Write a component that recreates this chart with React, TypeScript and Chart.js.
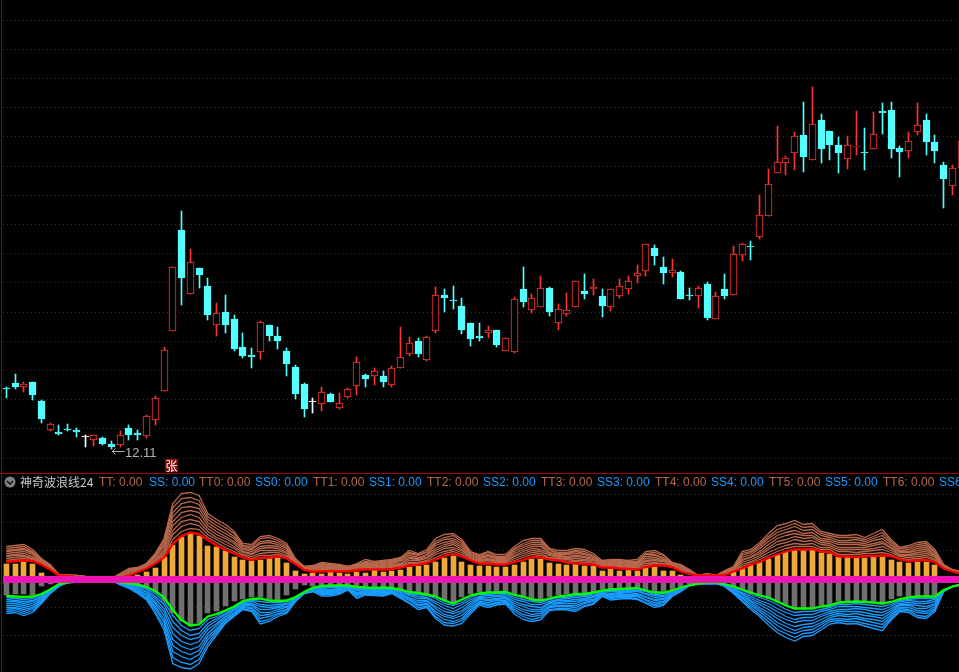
import React, { useEffect, useRef } from "react";
import { Chart, registerables } from "chart.js";

Chart.register(...registerables);

const open = [15.06,15.31,15.11,15.36,14.41,12.96,12.86,13.01,12.96,12.59,12.46,12.56,12.26,12.21,13.06,12.81,12.66,13.46,14.91,17.91,22.96,19.76,21.06,20.16,18.21,18.86,18.51,17.11,16.71,16.86,18.21,17.66,16.91,16.11,15.26,14.34,14.26,14.76,14.06,14.61,15.16,15.71,15.66,15.66,15.21,16.06,16.76,17.41,16.46,17.91,19.71,19.46,19.16,18.31,17.66,17.81,17.96,16.91,16.86,20.01,18.96,19.11,20.06,18.31,18.76,19.11,19.91,20.01,19.66,19.11,19.66,20.01,20.66,20.91,22.06,21.11,20.81,20.86,19.71,19.66,20.26,18.51,20.01,19.71,21.71,22.16,22.61,23.66,25.81,26.31,26.81,27.71,26.46,28.46,27.91,27.21,26.51,27.11,26.86,27.01,28.91,28.96,27.06,26.91,27.86,28.46,27.36,26.21,25.16,26.06];
const close = [15.01,15.11,15.26,14.71,13.51,13.26,12.76,12.96,12.86,12.59,12.71,12.26,12.11,12.71,12.71,12.71,13.66,14.56,16.96,21.11,20.56,21.36,20.71,18.71,18.81,18.21,17.01,16.66,16.61,18.36,17.66,17.41,16.26,14.76,14.01,14.34,14.86,14.36,14.31,15.01,16.36,15.51,15.91,15.36,16.06,16.61,17.31,16.76,17.61,19.71,19.56,19.41,17.96,17.51,17.56,17.96,17.21,17.56,19.51,19.36,19.56,20.06,18.86,19.01,18.96,20.41,19.76,20.11,19.16,20.01,20.16,20.41,20.81,22.26,21.66,20.81,20.96,19.51,19.66,20.06,18.56,19.66,19.66,21.76,22.26,22.11,23.71,25.26,26.36,26.56,27.66,26.61,28.26,27.01,27.21,26.81,27.21,27.16,26.81,27.76,28.81,27.01,26.86,27.41,28.21,27.36,26.91,25.51,26.06,27.41];
const high = [15.11,15.76,15.36,15.36,14.46,13.31,13.21,13.26,13.06,12.71,12.71,12.61,12.41,12.91,13.21,12.96,13.71,14.66,17.11,21.11,23.91,22.01,21.06,20.56,19.31,19.71,18.71,17.81,17.06,18.41,18.21,18.11,17.06,16.21,15.31,14.56,15.11,14.81,14.81,15.06,16.61,15.76,16.06,15.91,16.16,18.11,17.61,17.56,17.66,20.11,20.01,20.16,19.56,18.31,18.31,18.16,17.96,17.56,19.61,21.11,19.76,20.66,20.11,19.26,19.81,20.41,20.76,20.51,20.01,20.01,20.51,20.66,21.21,22.26,22.21,21.61,21.51,20.91,20.06,20.16,20.36,19.86,20.76,22.16,22.31,22.41,24.71,26.01,28.16,26.66,27.86,29.36,30.11,28.76,27.91,27.61,27.66,28.91,28.06,28.86,29.31,29.36,27.16,27.86,29.31,28.76,27.71,26.36,26.21,27.41];
const low = [14.56,15.01,14.86,14.46,13.31,12.91,12.71,12.91,12.61,12.11,12.16,12.21,12.01,12.11,12.46,12.46,12.56,13.21,14.91,17.91,19.21,19.76,20.06,18.46,17.66,17.81,16.91,16.56,16.06,16.51,17.41,17.01,15.66,14.51,13.61,13.81,13.91,14.36,14.01,14.56,14.71,15.11,15.21,15.11,15.11,16.06,16.66,16.61,16.41,17.81,18.86,19.01,17.76,17.16,17.41,17.56,17.11,16.91,16.81,19.11,18.81,19.11,18.66,17.96,18.66,19.11,19.51,19.71,18.61,18.91,19.56,19.76,20.31,20.66,21.21,20.26,20.61,19.51,19.46,19.06,18.46,18.51,19.51,19.71,21.41,21.46,22.51,23.66,25.81,25.71,25.96,25.86,26.46,26.31,26.46,25.81,26.01,26.71,25.96,27.01,27.76,26.56,25.61,26.56,27.71,26.71,26.31,24.06,24.71,26.06];

const priceGrid = [33.45,32,30.55,29.1,27.65,26.15,24.7,23.25,21.8,20.35,18.85,17.4,15.95,14.5,13.05,11.55];
const waveGrid = [85.4,57.4,29.4,-27.6,-55.6];

const upBars = [16,16,17.5,15.5,7,3,1,1,0.5,0,0,0,0,0.5,1,5,7.5,12,22.5,34.5,42.5,47,44,33.5,32.5,28.5,22.5,19.5,19,19.5,22,22,16.5,8.5,5.5,6.5,6,7.5,6.5,5.5,7.5,7,9.5,7.5,8.5,9.5,12.5,13.5,14.5,17.5,21.5,23.5,17.5,14.5,13.5,13.5,12.5,12.5,14.5,17.5,20.5,20.5,16.5,15.5,14.5,15.5,13.5,13.5,8.5,10.5,8.5,9.5,8.5,11.5,12.5,8.5,8.5,4.5,2,1,0.5,0.5,1,7.5,11.5,14.5,17.5,20.5,24.5,27.5,29.5,29.5,29.5,26.5,25.5,23,23,23,21.5,22.5,24.5,19.5,17.5,16.5,17.5,17.5,14.5,1,0.5,0.5];
const downBars = [15.5,14.5,14.5,15.5,6.5,4,1,1,0.5,0,0,0,0,0.5,1,4.5,8,12,21.5,33,41,46.5,43,33,31.5,26.5,21.5,19,17.5,17.5,19,21,15.5,9.5,5.5,6,5.5,6,5.5,5.5,7,8.5,8,8.5,8,11,13,14,15,17,21,24,17,14,12.5,12.5,12,12,14.5,18,20.5,20.5,17,15.5,14.5,14.5,13,13,9,10,9,8,9,11,12,11,11,7,4,1,0.5,0.5,1,8,10.5,14,16.5,19,22,25.5,29,29,28,25.5,25.5,21,21,22,21,21,24,19,16.5,17,17,17,15.5,1,0.5,0.5];

const redLine = [17.5,18.5,19,18.5,15,10,4,3.5,2.5,1,1,1,1,2,4,7.5,11,16,22,35.5,43.5,47,45.5,39.5,34,29.5,26,22,19.5,21.5,22,23,21,15.5,9.5,8,8,8.5,8,8,9.5,10,10,10,10.5,12,14,15,16.5,20,23.5,25.5,23,19,16,16,15,15,17.5,19.5,22.5,22,20,19,17,16,15.5,15,12,12,11,10.5,10,12.5,14,14,12.5,8,5.5,4,4,4,4.5,8,11,15,17.5,21.5,25,28,30,30,30.5,28,27.5,23,23,22.5,23.5,23.5,24,23.5,20,18.5,19,19.5,17.5,11,8,6];
const greenLine = [16.5,17,17.5,17,14.5,10,4.5,3,2,1,1,1,1,3,4,5,7.5,11.5,18,30.5,40.5,46,45,37,34.5,31,27,21.5,19.5,19,21,21.5,21,17.5,12.5,8,6.5,6,6,6,7.5,8,8.5,8,8.5,10,12.5,13.5,15,17,21,24,20,16,14,13,13,12.5,15.5,17,20,21,19,17,16,14.5,14.5,13,11,10,9.5,9,8.5,11,13,13,11,8,5.5,4,3,3,4.5,7,10,13,16,18,22,26,29,29,29,27,26,23,22.5,22,22.5,23,24,22.5,19.5,18,17,17,17,10.5,7,5];
const zeroX = [-0.38, 110];
const zeroY = [0, 0];

const TT = [19,20,21,20,16,11,4,4,3,1,1,1,1,2,5,8,12,17,24,40,48,51,50,42,37,32,28,24,21,24,24,25,23,16,10,9,9,9,9,9,10,11,11,11,12,13,16,16,18,22,26,28,25,20,17,17,16,16,19,22,25,24,21,20,18,18,17,16,13,13,12,11,11,14,16,15,13,9,6,4,4,4,5,9,13,17,20,24,28,31,33,33,33,30,30,25,25,25,26,26,27,25,21,20,21,22,19,11,8,6];
const TT0 = [21,22,23,21,16,11,4,4,3,1,1,1,1,3,5,9,12,18,26,45,53,56,54,45,40,35,31,25,23,26,27,27,24,17,10,9,10,10,9,9,11,12,12,12,13,14,17,17,19,25,28,30,27,21,18,19,17,17,21,24,27,26,22,21,20,19,19,17,14,14,13,12,12,16,17,16,14,10,6,4,4,4,6,9,15,18,22,27,31,34,36,35,36,32,32,28,28,27,28,29,30,27,23,22,23,24,20,12,8,6];
const TT1 = [23,24,24,22,17,12,4,4,3,2,1,1,1,3,6,9,13,19,28,49,58,60,58,48,42,38,33,27,25,29,29,29,26,17,11,10,11,11,10,10,12,13,13,13,14,15,19,19,21,27,31,32,29,22,19,20,18,18,23,26,29,28,24,22,21,21,20,19,14,15,14,13,13,18,19,18,14,10,7,4,5,4,6,10,17,20,24,30,35,37,40,38,39,35,34,30,30,30,30,31,33,29,24,24,25,26,22,12,9,7];
const TT2 = [24,25,26,23,18,12,4,4,3,2,1,1,1,4,7,10,13,20,30,54,62,65,62,51,45,41,36,28,26,31,32,31,27,18,11,10,12,12,11,10,12,14,14,14,15,16,21,20,22,29,33,35,30,23,20,21,19,19,24,28,31,30,25,23,22,23,22,20,15,16,15,14,14,19,20,19,15,11,7,4,5,4,7,10,19,22,26,32,38,40,43,41,42,37,36,32,32,32,32,34,36,31,25,25,27,28,23,13,9,7];
const TT3 = [26,27,28,25,18,13,4,4,3,2,1,1,1,4,8,10,14,22,33,58,67,69,67,54,48,43,38,30,28,33,34,33,29,19,11,11,13,13,12,11,13,15,14,15,16,18,22,21,24,31,35,37,32,24,21,23,20,20,26,30,33,33,26,24,23,24,23,21,16,16,16,15,15,21,22,20,15,12,8,4,5,4,7,11,20,23,28,35,41,44,46,44,44,39,38,35,35,35,34,36,38,32,27,27,29,30,24,13,9,7];
const TT4 = [28,29,30,26,19,13,4,4,4,2,1,1,1,5,8,11,14,23,35,63,72,73,71,57,51,46,41,31,30,36,37,35,31,19,12,12,14,13,12,11,14,16,15,16,17,19,24,22,25,34,37,39,34,25,22,24,21,21,28,32,35,35,27,25,25,26,25,22,17,17,17,16,16,23,24,21,16,13,8,4,5,4,8,11,22,25,31,38,44,47,49,46,47,41,40,37,37,37,36,39,41,34,28,28,31,32,25,13,9,7];
const TT5 = [29,30,31,27,20,14,4,4,4,3,1,1,1,5,9,11,15,24,37,67,76,78,75,60,54,49,43,33,31,38,39,37,32,20,12,12,15,14,13,12,15,17,16,17,18,20,26,24,27,36,40,41,36,26,23,25,22,22,30,34,37,37,29,26,26,28,26,23,17,18,18,17,17,25,25,22,16,14,9,4,5,4,8,12,24,27,33,41,47,50,53,49,50,44,42,39,39,40,38,41,44,36,29,30,33,34,27,14,9,8];
const TT6 = [31,32,33,28,20,14,4,4,4,3,1,1,1,6,10,12,16,25,39,72,81,82,79,63,57,52,46,34,33,41,42,39,34,20,13,13,16,15,14,13,15,18,17,18,19,21,27,25,28,38,42,44,38,27,24,27,23,23,31,36,39,39,30,27,27,29,28,24,18,19,19,18,18,26,27,24,17,14,9,4,5,4,8,12,26,28,35,43,50,53,56,52,53,46,44,42,42,42,40,43,47,38,31,32,35,36,28,14,9,8];
const TT7 = [33,34,35,30,21,15,5,4,4,3,1,1,1,6,11,12,16,26,41,76,86,87,84,66,60,55,48,36,35,43,44,41,36,21,13,14,17,16,15,13,16,20,18,19,20,22,29,26,30,41,45,46,40,28,25,28,25,25,33,39,41,41,31,29,29,31,30,26,19,20,20,19,20,28,29,25,17,15,10,4,6,4,9,13,28,30,37,46,54,56,59,55,56,48,46,44,44,45,42,46,50,40,32,34,37,38,30,15,10,8];

const SS = [18,19,20,19,16,10,5,3,2,1,1,1,1,3,5,6,9,14,22,36,46,51,49,40,37,32,28,22,21,22,23,23,22,18,13,8,8,7,7,7,9,9,9,9,9,11,14,15,16,19,24,26,23,18,15,15,14,14,18,20,22,23,20,18,18,16,16,14,12,11,11,10,10,12,15,14,12,8,6,4,3,3,5,8,11,15,18,21,25,30,33,32,32,30,28,25,25,24,25,26,27,25,21,20,19,19,19,11,7,5];
const SS0 = [20,21,22,21,17,11,5,3,2,1,1,1,1,4,5,7,10,17,25,42,51,56,54,44,39,34,29,23,22,25,26,25,24,19,13,9,9,8,8,7,10,10,10,10,10,12,15,17,18,22,26,29,25,20,17,16,16,15,20,22,25,25,22,20,19,18,17,16,12,12,12,11,11,14,16,16,12,9,6,4,3,3,5,9,13,17,21,24,29,33,36,35,35,32,30,27,27,27,28,29,30,27,22,21,22,22,20,11,7,5];
const SS1 = [22,22,24,22,18,11,5,3,2,1,1,1,1,4,6,8,12,19,29,48,56,60,58,47,41,35,30,24,24,27,28,27,25,19,13,9,10,10,9,8,11,10,11,11,10,13,16,19,19,24,29,32,28,22,18,18,17,17,22,25,27,28,23,21,21,20,19,17,13,14,13,12,12,15,18,17,13,9,6,4,4,3,5,9,14,19,23,27,32,37,40,38,38,35,32,30,30,29,30,32,33,29,24,23,24,24,22,11,7,5];
const SS2 = [24,24,26,24,19,12,6,3,2,1,1,1,1,4,6,9,13,22,32,54,62,65,62,50,44,37,31,25,25,30,30,28,27,20,13,10,11,11,10,8,13,11,12,12,11,14,18,21,21,27,32,34,31,24,19,20,19,18,24,27,30,30,24,23,22,22,20,18,14,15,14,13,14,17,20,19,14,10,6,4,4,3,6,10,15,21,25,30,36,40,43,41,41,37,34,32,32,32,33,35,36,31,25,25,26,27,24,11,7,5];
const SS3 = [26,26,28,26,20,12,6,3,2,1,1,1,1,4,7,10,15,24,36,60,67,70,67,54,46,38,33,26,26,33,33,30,28,20,13,10,12,12,11,9,14,12,13,13,12,15,19,23,22,29,35,37,33,26,20,21,20,19,26,30,32,32,26,24,24,24,21,20,14,16,15,15,15,18,21,20,14,10,6,4,4,4,6,11,17,22,28,33,39,44,47,45,44,40,36,34,35,34,36,37,39,33,26,26,29,29,25,11,7,5];
const SS4 = [28,28,30,28,21,13,6,3,2,1,1,1,1,5,7,11,16,27,40,66,72,75,71,57,49,40,34,27,28,36,35,32,30,21,14,11,13,13,12,9,15,13,13,14,12,16,20,25,24,32,37,39,36,28,22,23,21,21,28,32,35,34,27,26,26,26,23,21,15,17,16,16,16,20,23,22,15,11,6,4,4,4,6,12,18,24,30,36,43,47,51,48,47,43,38,36,37,37,39,40,42,35,28,28,31,32,27,11,7,5];
const SS5 = [30,29,32,29,22,13,6,3,2,1,1,1,1,5,8,12,18,29,43,72,77,80,75,60,51,41,35,28,29,39,37,34,31,21,14,11,14,14,13,10,16,14,14,15,13,17,21,26,25,34,40,42,39,30,23,25,23,22,30,35,37,36,28,27,27,28,24,22,16,18,17,17,17,21,25,23,16,11,6,4,4,4,6,12,19,26,32,39,46,51,54,51,50,45,40,39,40,39,41,43,45,37,29,30,33,34,29,12,7,5];
const SS6 = [32,31,34,31,23,14,7,3,2,1,1,1,1,5,8,13,19,32,47,78,83,85,80,64,53,43,36,29,31,42,40,35,33,22,14,12,15,15,14,10,18,15,15,16,13,18,23,28,27,37,43,44,41,32,24,26,24,23,32,37,40,38,30,29,29,30,26,24,16,19,18,18,19,23,26,25,16,12,6,4,4,4,7,13,21,28,35,42,50,54,58,54,53,48,42,41,42,42,44,46,48,39,31,31,36,37,30,12,7,5];
const SS7 = [34,33,36,33,24,14,7,3,2,1,1,1,1,5.5,9,14,20.5,34,50.5,84,88,89.5,84,67,55.5,44,37,30,32,44.5,42,37,34,22,14,12,16.5,16.5,15,10.5,19,15.5,16,16.5,14,19,24,30,28,39,45.5,46.5,44,34,25.5,28,25.5,24.5,34.5,40,42,40.5,31,30,30.5,32,27,25,17,20.5,19.5,19,20,24,28,26,17,12,5.5,4,4.5,4,7,14,22,30,37,45.5,53,58,61.5,57,56,50.5,44.5,43,44.5,44,46.5,49,51,40.5,32,33,38,39,32,12,7,5];

const legendItems = ["TT","SS","TT0","SS0","TT1","SS1","TT2","SS2","TT3","SS3","TT4","SS4","TT5","SS5","TT6","SS6"];
const legendValue = "0.00";
const legendLefts = [99,149,199,255,313,369,427,483,541,597,655,711,769,825,883,939];

const RED = "#ff3232";
const CYAN = "#54ffff";
const BROWN = "#b8684c";
const BLUE = "#1a9cff";
const lowIndex = 12;
const lowLabel = "12.11";
const limitUpIndex = 19;
const limitUpLabel = "张";

const indices = open.map((_, i) => i);
const candleColor = (i: number) =>
  close[i] > open[i] ? RED : close[i] < open[i] ? CYAN : "#ffffff";

const snapBars = {
  id: "snapBars",
  afterDatasetsUpdate(chart: any) {
    for (const meta of chart.getSortedVisibleDatasetMetas()) {
      if (meta.type !== "bar") continue;
      for (const el of meta.data) {
        el.x = Math.floor(el.x) + 0.5;
        el.y = Math.round(el.y);
        el.base = Math.round(el.base);
        if (el.y === el.base) el.base = el.y + 1;
      }
    }
  },
};

const frame = {
  id: "frame",
  beforeDraw(chart: any) {
    const { ctx, width, height } = chart;
    ctx.save();
    ctx.fillStyle = "#000";
    ctx.fillRect(0, 0, width, height);
    ctx.restore();
  },
  beforeDatasetsDraw(chart: any) {
    const { ctx, width, height } = chart;
    ctx.save();
    ctx.fillStyle = "#a00000";
    ctx.fillRect(1, 0, 1, height);
    ctx.fillRect(0, 473, width, 1);
    ctx.restore();
  },
  afterDatasetsDraw(chart: any) {
    const { ctx, scales } = chart;
    const x = scales.x.getPixelForValue(lowIndex);
    const y = Math.round(scales.y.getPixelForValue(low[lowIndex]));
    ctx.save();
    ctx.strokeStyle = "#b4b4b4";
    ctx.fillStyle = "#b4b4b4";
    ctx.lineWidth = 1;
    ctx.beginPath();
    ctx.moveTo(x + 1, y + 2.5);
    ctx.lineTo(x + 13, y + 2.5);
    ctx.moveTo(x + 4, y - 0.5);
    ctx.lineTo(x + 1, y + 2.5);
    ctx.lineTo(x + 4, y + 5.5);
    ctx.stroke();
    ctx.font = "13px 'Liberation Sans'";
    ctx.textBaseline = "middle";
    ctx.textAlign = "left";
    ctx.fillText(lowLabel, x + 13.5, y + 4);
    const mx = Math.round(scales.x.getPixelForValue(limitUpIndex)) - 8;
    ctx.fillStyle = "#8a0a0a";
    ctx.fillRect(mx, 459, 13, 13);
    ctx.fillStyle = "#ffffff";
    ctx.font = "12px 'Noto Sans CJK SC'";
    ctx.textAlign = "center";
    ctx.fillText(limitUpLabel, mx + 6.5, 466);
    ctx.restore();
  },
};

const lineSet = (label: string, values: number[], color: string, width: number, order: number, sign = 1) => ({
  type: "line" as const,
  label,
  yAxisID: "y2",
  data: indices.map((i) => ({ x: i, y: sign * values[i] })),
  borderColor: color,
  borderWidth: width,
  pointRadius: 0,
  tension: 0,
  order,
});

export default function App() {
  const ref = useRef<HTMLCanvasElement>(null);
  useEffect(() => {
    const chart = new Chart(ref.current as HTMLCanvasElement, {
      type: "bar",
      data: {
        datasets: [
          {
            label: "wick",
            yAxisID: "y",
            grouped: false,
            data: indices.map((i) => ({ x: i, y: [low[i], high[i]] })),
            backgroundColor: indices.map(candleColor),
            borderWidth: 0,
            barPercentage: 1,
            categoryPercentage: 1,
            maxBarThickness: 1,
            order: 90,
          },
          {
            label: "body",
            yAxisID: "y",
            grouped: false,
            data: indices.map((i) => ({ x: i, y: [open[i], close[i]] })),
            backgroundColor: indices.map((i) => (close[i] > open[i] ? "#000000" : candleColor(i))),
            borderColor: indices.map(candleColor),
            borderWidth: 1,
            borderSkipped: false,
            minBarLength: 1,
            barPercentage: 1,
            categoryPercentage: 1,
            maxBarThickness: 7,
            order: 80,
          },
          ...[TT, TT0, TT1, TT2, TT3, TT4, TT5, TT6, TT7].map((v, k) =>
            lineSet(k === 0 ? "TT" : `TT${k - 1}`, v, BROWN, 1.3, 70)
          ),
          ...[SS, SS0, SS1, SS2, SS3, SS4, SS5, SS6, SS7].map((v, k) =>
            lineSet(k === 0 ? "SS" : `SS${k - 1}`, v, BLUE, 1.3, 70, -1)
          ),
          {
            label: "up",
            yAxisID: "y2",
            grouped: false,
            data: indices.map((i) => ({ x: i, y: upBars[i] })),
            backgroundColor: "#f0a838",
            borderWidth: 0,
            barPercentage: 1,
            categoryPercentage: 1,
            maxBarThickness: 5,
            order: 50,
          },
          {
            label: "down",
            yAxisID: "y2",
            grouped: false,
            data: indices.map((i) => ({ x: i, y: -downBars[i] })),
            backgroundColor: "#707070",
            borderWidth: 0,
            barPercentage: 1,
            categoryPercentage: 1,
            maxBarThickness: 5,
            order: 50,
          },
          lineSet("red", redLine, "#ff0000", 2.3, 30),
          lineSet("green", greenLine, "#00ff00", 2.3, 30, -1),
          {
            type: "line" as const,
            label: "zero",
            yAxisID: "y2",
            data: zeroX.map((x, i) => ({ x, y: zeroY[i] })),
            borderColor: "#ee14b4",
            borderWidth: 7,
            pointRadius: 0,
            order: 10,
          },
        ] as any,
      },
      options: {
        animation: false,
        responsive: false,
        devicePixelRatio: 1,
        events: [],
        layout: { padding: 0 },
        plugins: { legend: { display: false }, tooltip: { enabled: false } },
        scales: {
          x: { type: "linear", display: false, offset: false, min: -0.7249, max: 108.75 },
          y: {
            position: "left",
            min: 0.86,
            max: 34.46,
            ticks: { display: false },
            afterBuildTicks: (s: any) => {
              s.ticks = priceGrid.map((value) => ({ value }));
            },
            grid: { color: "#a00000", lineWidth: 1, drawTicks: false },
            border: { display: false, dash: [1, 3], dashOffset: 1 },
          },
          y2: {
            position: "left",
            min: -92.5,
            max: 579.5,
            ticks: { display: false },
            afterBuildTicks: (s: any) => {
              s.ticks = waveGrid.map((value) => ({ value }));
            },
            grid: { color: "#a00000", lineWidth: 1, drawTicks: false },
            border: { display: false, dash: [1, 3], dashOffset: 1 },
          },
        },
      },
      plugins: [snapBars, frame],
    } as any);
    return () => chart.destroy();
  }, []);

  return (
    <div style={{ position: "fixed", left: 0, top: 0, width: 959, height: 672, overflow: "hidden", background: "#000" }}>
      <canvas ref={ref} width={959} height={672} style={{ display: "block", width: 959, height: 672 }} />
      <svg width={12} height={12} style={{ position: "absolute", left: 4, top: 476 }}>
        <circle cx={6} cy={6} r={5.5} fill="#808080" />
        <path d="M3 5 L6 8 L9 5" stroke="#101010" strokeWidth={1.5} fill="none" />
      </svg>
      <span style={{ position: "absolute", left: 20, top: 475, font: "12px/14px 'Noto Sans CJK SC'", color: "#c8c8c8", whiteSpace: "nowrap" }}>
        神奇波浪线24
      </span>
      {legendItems.map((name, i) => (
        <span
          key={name}
          style={{
            position: "absolute",
            left: legendLefts[i],
            top: 475,
            font: "12px/14px 'Liberation Sans'",
            color: i % 2 === 0 ? BROWN : BLUE,
            whiteSpace: "nowrap",
          }}
        >
          {name}: {legendValue}
        </span>
      ))}
    </div>
  );
}
